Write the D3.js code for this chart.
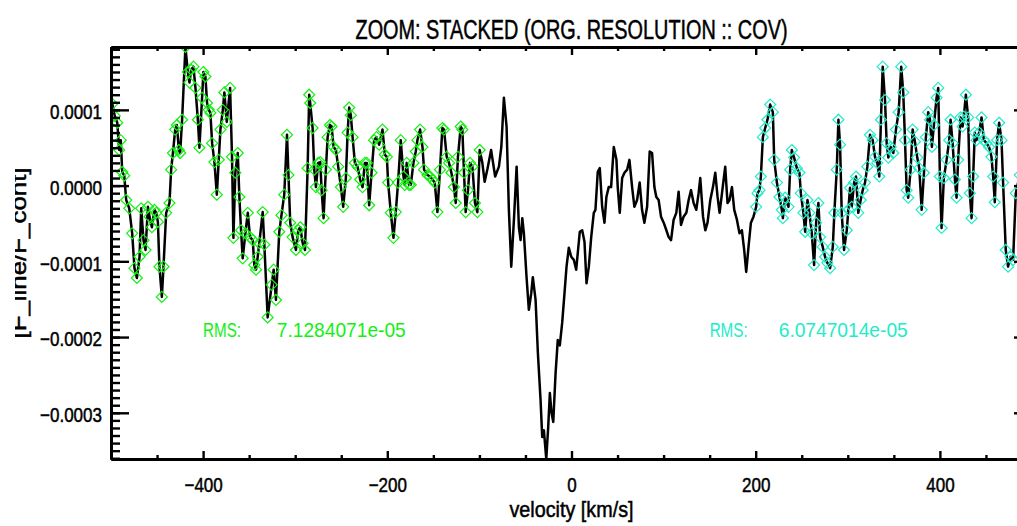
<!DOCTYPE html>
<html lang="en">
<head>
<meta charset="UTF-8">
<title>Zoom: stacked</title>
<script src="https://d3js.org/d3.v7.min.js"></script>
<style>
  body { margin: 0; background: #fff; }
  text { font-family: "Liberation Sans", Arial, sans-serif; fill: #000; }
  .axis path, .axis line { stroke: #000; }
  .ink { stroke: #000; stroke-width: 0.5px; }
</style>
</head>
<body>
<div id="chart"></div>
<script>
// velocity [km/s] of each channel of the stacked spectrum
const velocity = [
  -498.6, -495.9, -493.2, -491.1, -489.4, -487.8, -485.6, -483.5, -480.2, -477.0,
  -474.5, -471.9, -469.0, -467.2, -464.7, -462.5, -459.9, -458.2, -455.6, -452.8,
  -450.9, -449.1, -447.4, -444.8, -443.0, -440.1, -436.5, -434.7, -432.8, -430.3,
  -428.5, -426.3, -424.9, -422.8, -419.2, -416.6, -414.8, -413.0, -410.5, -408.3,
  -405.7, -404.0, -401.1, -399.7, -397.5, -395.7, -393.8, -392.1, -390.2, -387.7,
  -385.1, -383.0, -381.2, -378.6, -376.9, -374.3, -370.7, -368.6, -367.1, -365.0,
  -362.4, -360.6, -358.8, -357.0, -354.1, -351.5, -349.0, -346.1, -344.4, -342.5,
  -340.7, -339.0, -335.3, -333.5, -329.9, -325.5, -323.4, -320.9, -317.3, -314.9,
  -311.9, -308.9, -307.3, -305.4, -302.8, -299.2, -296.7, -294.5, -291.9, -289.4,
  -286.5, -284.8, -283.7, -281.1, -279.3, -277.5, -275.0, -272.8, -271.3, -269.2,
  -266.7, -264.8, -262.3, -260.5, -258.3, -255.8, -253.3, -250.4, -247.9, -245.0,
  -243.1, -241.4, -239.6, -237.7, -235.2, -232.3, -229.5, -226.9, -224.4, -222.2,
  -219.7, -217.1, -214.3, -211.7, -208.9, -205.2, -202.7, -200.5, -199.1, -196.2,
  -193.3, -190.8, -188.3, -185.4, -182.4, -181.0, -178.9, -176.4, -174.5, -171.6,
  -169.1, -167.3, -164.4, -161.8, -160.1, -156.4, -153.6, -151.0, -148.5, -145.6,
  -142.8, -140.2, -138.4, -135.5, -133.0, -130.4, -127.6, -125.7, -123.3, -120.3,
  -118.5, -116.7, -114.9, -112.4, -110.2, -107.6, -104.8, -102.2, -99.7,
  -96.8, -94.3, -91.1, -87.3, -82.9, -78.8, -76.2, -73.4, -70.5, -68.0,
  -65.4, -62.5, -59.6, -57.1, -55.3, -53.4, -51.7, -48.8, -46.3, -43.7,
  -42.0, -39.0, -36.5, -33.6, -31.8, -30.0, -27.4, -25.3, -23.5, -21.7,
  -19.8, -17.3, -14.9, -12.7, -10.1, -7.6, -5.4, -2.9, -0.3, 2.5,
  5.1, 6.8, 9.0, 11.6, 14.1, 16.3, 18.8, 21.4, 24.2, 26.0,
  28.5, 30.7, 33.3, 35.8, 37.9, 40.4, 43.0, 45.9, 48.8, 50.2,
  52.4, 55.0, 57.5, 60.4, 62.9, 65.8, 68.3, 71.2, 74.0, 76.6,
  79.1, 82.1, 84.9, 87.5, 90.0, 92.1, 94.6, 97.2, 100.1, 103.0,
  105.5, 108.1, 110.9, 113.8, 116.3, 118.9, 121.7, 124.7, 127.2, 129.8,
  132.6, 135.5, 138.0, 139.8, 142.8, 145.3, 147.7, 150.7, 153.6, 156.1,
  158.6, 160.8, 163.4, 166.9, 169.4, 171.6, 174.2, 176.7, 179.6, 182.4,
  185.0, 187.5, 189.7, 192.2, 194.8, 197.6,
  200.5, 202.0, 204.1, 205.6, 207.8, 210.3, 212.8, 215.7, 218.6, 220.1,
  223.0, 225.8, 228.4, 229.5, 232.0, 235.6, 237.4, 239.2, 241.7, 244.7,
  247.5, 249.0, 251.8, 253.7, 256.2, 258.3, 260.9, 263.4, 265.6, 268.1,
  269.9, 272.8, 275.3, 277.8, 280.8, 283.7, 285.4, 288.0, 289.8, 291.6,
  293.4, 295.9, 298.9, 300.6, 302.4, 304.3, 306.8, 308.9, 311.4, 314.0,
  316.2, 318.7, 321.2, 324.1, 327.0, 329.5, 332.0, 334.2, 336.0, 337.9,
  340.4, 342.2, 344.0, 346.6, 349.4, 352.3, 355.2, 358.0, 360.2, 362.1,
  363.9, 365.6, 368.2, 370.4, 372.9, 375.4, 377.6, 380.2, 382.7, 384.8,
  387.3, 389.2, 391.3, 393.5, 396.4, 398.2, 400.0, 401.8, 404.3, 407.3,
  410.1, 411.6, 413.8, 416.3, 418.1, 419.8, 422.4, 424.6, 426.0, 428.2,
  430.7, 432.5, 434.4, 436.1, 437.9, 439.8, 442.6, 445.2, 447.7, 450.6,
  453.4, 456.0, 457.8, 459.6, 462.1, 464.3, 466.9, 468.6, 471.5, 474.0,
  476.6, 479.5, 482.4, 486.7, 492.1, 497.6
];

// F_line/F_cont, in units of 1e-4
const fluxE4 = [
  1.08, 0.92, 0.83, 0.47, 0.60, 0.18, 0.13, -0.19, -0.30, -0.63,
  -1.09, -1.22, -0.94, -0.30, -0.72, -0.85, -0.28, -0.41, -0.55, -0.32,
  -0.36, -0.48, -1.07, -1.47, -1.07, -0.36, -0.23, 0.21, 0.43, 0.74,
  0.80, 0.47, 0.43, 0.87, 1.83, 1.50, 1.36, 1.53, 1.57, 1.29,
  0.87, 0.50, 1.16, 1.50, 1.44, 1.09, 1.00, 0.96, 0.56, 0.31,
  -0.12, 0.34, 0.74, 1.00, 1.23, 0.84, 1.29, 0.38, -0.69, 0.17,
  0.43, -0.15, -0.59, -0.96, -0.63, -0.36, -0.68, -0.72, -1.05, -1.11,
  -0.94, -0.76, -0.35, -0.78, -1.74, -1.31, -1.11, -1.51, -0.61, -0.39,
  -0.12, 0.67, 0.14, -0.49, -0.68, -0.85, -0.59, -0.55, -0.76, -0.85,
  0.23, 1.20, 1.09, 0.76, 0.21, -0.02, 0.30, 0.31, -0.06, -0.43,
  0.21, 0.64, 0.80, 0.78, 0.51, 0.47, 0.25, -0.02, -0.28, 0.10,
  0.70, 1.03, 0.93, 0.64, 0.30, 0.25, 0.08, -0.02, 0.30, 0.30,
  -0.26, 0.17, 0.60, 0.64, 0.54, 0.74, 0.41, 0.38, 0.04, -0.36,
  -0.69, -0.35, 0.04, 0.60, 0.12, 0.01, 0.30, 0.01, 0.01, 0.30,
  0.45, 0.60, 0.74, 0.51, 0.21, 0.14, 0.12, 0.08, 0.04, -0.35,
  0.21, 0.76, 0.74, 0.38, 0.30, 0.17, -0.02, -0.23, 0.38, 0.78,
  0.74, 0.17, -0.35, -0.06, 0.30, 0.25, -0.23, -0.35, 0.47,
  0.30, 0.05, 0.23, 0.47, 0.12, 0.25, 0.51, 1.16, 0.78, -0.32,
  -1.07, -0.45, 0.25, -0.55, -0.72, -0.43, -0.63, -1.21, -1.64, -1.42,
  -1.21, -1.51, -2.21, -2.83, -3.32, -3.23, -3.61, -3.19, -2.74, -3.00,
  -3.12, -2.48, -2.04, -2.11, -1.81, -1.42, -1.07, -0.82, -0.94, -0.98,
  -1.11, -0.89, -0.61, -0.59, -0.74, -1.29, -1.07, -0.68, -0.36, -0.32,
  0.18, 0.23, -0.28, -0.49, -0.15, -0.02, -0.02, 0.51, 0.34, -0.02,
  -0.36, 0.10, 0.17, 0.21, 0.34, -0.02, -0.28, -0.19, 0.04, -0.32,
  -0.49, -0.28, 0.45, 0.43, -0.02, -0.15, -0.19, -0.41, -0.49, -0.59,
  -0.68, -0.72, -0.45, -0.36, -0.08, -0.52, -0.41, -0.36, -0.19, -0.06,
  -0.23, -0.32, -0.10, 0.10, -0.41, -0.59, -0.49, -0.19, -0.02, 0.17,
  -0.15, -0.36, -0.10, 0.25, -0.23, -0.19, -0.02, -0.32, -0.45, -0.63,
  -0.59, -0.85, -1.14, -0.81, -0.49, -0.41,
  -0.28, -0.10, -0.06, 0.12, 0.64, 0.76, 0.87, 1.07, 0.97, 0.34,
  0.04, -0.15, -0.32, -0.43, -0.16, -0.28, 0.21, 0.47, 0.37, 0.23,
  0.17, -0.10, -0.36, -0.61, -0.19, -0.36, -0.63, -1.05, -0.49, -0.23,
  -0.68, -0.81, -0.94, -1.02, -1.09, -0.81, -0.36, 0.21, 0.87, 0.54,
  -0.36, -0.85, -0.59, -0.32, -0.03, -0.28, 0.04, 0.12, -0.36, -0.19,
  -0.06, 0.04, 0.25, 0.67, 0.60, 0.38, 0.30, 0.12, 0.87, 1.57,
  1.13, 0.56, 0.37, 0.51, 0.43, 0.74, 0.97, 1.57, 1.23, 0.60,
  -0.06, -0.16, 0.21, 0.74, 0.58, 0.37, 0.23, -0.32, 0.17, 0.64,
  0.97, 0.87, 0.51, 0.80, 1.16, 1.29, 0.12, -0.56, 0.10, 0.34,
  0.60, 0.87, 0.56, 0.08, -0.16, 0.34, 0.90, 0.78, 0.91, 1.20,
  0.90, -0.10, -0.43, 0.12, 0.70, 0.60, 0.70, 0.90, 0.60, 0.56,
  0.51, 0.38, 0.12, -0.22, 0.60, 0.83, 0.60, 0.04, -0.85, -1.07,
  -0.94, -0.98, -0.10, 0.14, -0.19, 0.01
];

// velocity windows used for the rms, and their results
const rmsWindows = [
  { from: -500, to: -99, color: "#12f012", rms: "7.1284071e-05", labelAt: -400, valueAt: -320 },
  { from: 199, to: 500, color: "#22ecc8", rms: "6.0747014e-05", labelAt: 150, valueAt: 225 }
];
const rmsLabelLevel = -2e-4;

const xMajorTicks = [-400, -200, 0, 200, 400];
const xMinorTicks = [-500, -450, -350, -300, -250, -150, -100, -50, 50, 100, 150, 250, 300, 350, 450, 500];
const yMajorTicks = [-3e-4, -2e-4, -1e-4, 0, 1e-4];

const titleText = "ZOOM: STACKED (ORG. RESOLUTION :: COV)";
const xTitle = "velocity [km/s]";
const yTitle = "[F_line/F_cont]";

const data = velocity.map((v, i) => ({ v: v, f: fluxE4[i] * 1e-4 }));

const W = 1017, H = 526;
const mLeft = 111, mRight = 1032, mTop = 47, mBottom = 459;

const x = d3.scaleLinear().domain([-500, 500]).range([mLeft, mRight]);
const y = d3.scaleLinear().domain([-3.61e-4, 1.83e-4]).range([mBottom, mTop]);

const svg = d3.select("#chart").append("svg")
    .attr("width", W).attr("height", H)
    .style("display", "block");

// the IDL font is a narrow helvetica: squeeze Liberation Sans sideways
function squeeze(sel, k) {
  sel.each(function () {
    const len = this.getComputedTextLength();
    d3.select(this).attr("textLength", len * k).attr("lengthAdjust", "spacingAndGlyphs");
  });
}

const defs = svg.append("defs");
defs.append("clipPath").attr("id", "plotclip")
    .append("rect").attr("x", mLeft).attr("y", mTop - 1)
    .attr("width", mRight - mLeft).attr("height", mBottom - mTop + 2);
defs.append("clipPath").attr("id", "ylabclip")
    .append("rect").attr("x", 15).attr("y", 0).attr("width", 40).attr("height", H);

const plot = svg.append("g").attr("clip-path", "url(#plotclip)");

// spectrum
plot.append("path")
    .datum(data)
    .attr("fill", "none")
    .attr("stroke", "#000")
    .attr("stroke-width", 2.5)
    .attr("stroke-linejoin", "round")
    .attr("d", d3.line().x(d => x(d.v)).y(d => y(d.f)));

// diamonds over the channels used for the rms
const diamond = "M0,-5.5L5.5,0L0,5.5L-5.5,0Z";
rmsWindows.forEach(w => {
  plot.append("g").selectAll("path")
    .data(data.filter(d => d.v >= w.from && d.v <= w.to))
    .join("path")
    .attr("d", diamond)
    .attr("transform", d => "translate(" + x(d.v) + "," + y(d.f) + ")")
    .attr("fill", "none")
    .attr("stroke", w.color)
    .attr("stroke-width", 1.2);

  svg.append("text")
    .attr("x", x(w.labelAt)).attr("y", y(rmsLabelLevel))
    .style("font-size", "21px").style("fill", w.color)
    .attr("textLength", 38).attr("lengthAdjust", "spacingAndGlyphs")
    .text("RMS:");
  svg.append("text")
    .attr("x", x(w.valueAt)).attr("y", y(rmsLabelLevel))
    .style("font-size", "21px").style("fill", w.color)
    .attr("textLength", 129).attr("lengthAdjust", "spacingAndGlyphs")
    .text(w.rms);
});

// axes, IDL style: ticks point inwards, minor ticks half length
function styleAxis(g) {
  g.attr("class", "axis");
  g.selectAll("path").attr("stroke-width", 3);
  g.selectAll("line").attr("stroke-width", 2.4);
  g.selectAll("text").attr("class", "ink").style("font-size", "21px").attr("fill", "#000")
    .call(squeeze, 0.81);
}

svg.append("g").attr("transform", "translate(0," + mBottom + ")")
    .call(d3.axisBottom(x).tickValues(xMinorTicks).tickSize(-4).tickSizeOuter(0).tickFormat(""))
    .call(styleAxis);
svg.append("g").attr("transform", "translate(0," + mBottom + ")")
    .call(d3.axisBottom(x).tickValues(xMajorTicks).tickSize(-8).tickSizeOuter(0).tickPadding(18).tickFormat(d3.format("d")))
    .call(styleAxis);
svg.append("g").attr("transform", "translate(0," + mTop + ")")
    .call(d3.axisTop(x).tickValues(xMinorTicks).tickSize(-4).tickSizeOuter(0).tickFormat(""))
    .call(styleAxis);
svg.append("g").attr("transform", "translate(0," + mTop + ")")
    .call(d3.axisTop(x).tickValues(xMajorTicks).tickSize(-8).tickSizeOuter(0).tickFormat(""))
    .call(styleAxis);

const yMinor = d3.range(-36, 19).map(i => i * 1e-5);
svg.append("g").attr("transform", "translate(" + mLeft + ",0)")
    .call(d3.axisLeft(y).tickValues(yMinor).tickSize(-9).tickSizeOuter(0).tickFormat(""))
    .call(styleAxis);
svg.append("g").attr("transform", "translate(" + mLeft + ",0)")
    .call(d3.axisLeft(y).tickValues(yMajorTicks).tickSize(-18).tickSizeOuter(0).tickPadding(9).tickFormat(d3.format(".4f")))
    .call(styleAxis)
    .call(g => g.selectAll("text").attr("dy", "0.42em"));
svg.append("g").attr("transform", "translate(" + mRight + ",0)")
    .call(d3.axisRight(y).tickValues(yMinor).tickSize(-9).tickSizeOuter(0).tickFormat(""))
    .call(styleAxis);
svg.append("g").attr("transform", "translate(" + mRight + ",0)")
    .call(d3.axisRight(y).tickValues(yMajorTicks).tickSize(-18).tickSizeOuter(0).tickFormat(""))
    .call(styleAxis);

// titles
svg.append("text")
    .attr("class", "ink")
    .attr("x", (mLeft + mRight) / 2).attr("y", 39)
    .attr("text-anchor", "middle")
    .style("font-size", "27px")
    .attr("textLength", 432).attr("lengthAdjust", "spacingAndGlyphs")
    .text(titleText);

svg.append("text")
    .attr("class", "ink")
    .attr("x", (mLeft + mRight) / 2).attr("y", 517)
    .attr("text-anchor", "middle")
    .style("font-size", "22px")
    .attr("textLength", 124).attr("lengthAdjust", "spacingAndGlyphs")
    .text(xTitle);

svg.append("g").attr("clip-path", "url(#ylabclip)")
  .append("text")
    .attr("class", "ink")
    .attr("transform", "translate(26," + ((mTop + mBottom) / 2) + ") rotate(-90)")
    .attr("text-anchor", "middle")
    .style("font-size", "22px")
    .attr("textLength", 171).attr("lengthAdjust", "spacingAndGlyphs")
    .text(yTitle);
</script>
</body>
</html>
